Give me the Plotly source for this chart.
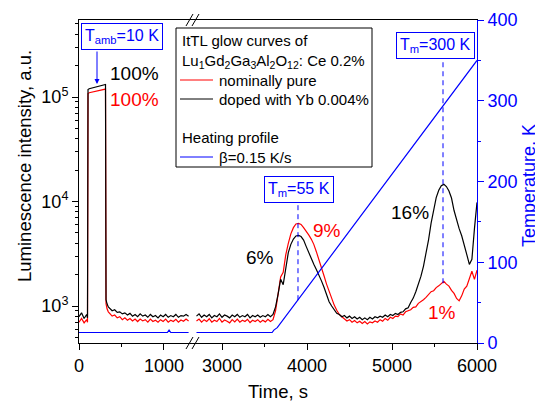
import plotly.graph_objects as go

# ---------------- data ----------------
time_left = [0, 30, 60, 90, 100, 106, 120, 150, 180, 210, 240, 270, 300, 312, 318, 322,
             330, 345, 360, 390, 420, 450, 480, 510, 540, 570, 600, 630, 660, 690, 720,
             750, 780, 810, 840, 870, 900, 930, 960, 990, 1020, 1050, 1080, 1110, 1140,
             1170, 1200, 1230, 1260, 1290]
black_left = [790, 860, 760, 830, 770, 118000, 120000, 122000, 124000, 126000, 127500,
              129000, 131000, 132000, 1150, 1080, 1050, 980, 950, 900, 920, 870, 880, 840,
              860, 820, 850, 800, 830, 790, 840, 800, 820, 780, 830, 790, 810, 770, 820,
              790, 830, 780, 810, 790, 830, 780, 810, 800, 830, 800]
red_left = [700, 760, 690, 740, 700, 108000, 110000, 111500, 113000, 114500, 116000,
            117000, 118500, 119000, 1050, 980, 940, 880, 850, 800, 820, 770, 790, 740,
            770, 730, 760, 720, 750, 710, 750, 720, 740, 700, 750, 710, 730, 700, 740,
            710, 750, 700, 730, 710, 745, 700, 735, 715, 750, 720]

time_right = list(range(2700, 6001, 30))
black_right = [800, 840, 780, 820, 790, 830, 770, 810, 790, 840,
               780, 820, 800, 770, 820, 790, 830, 780, 810, 790,
               830, 770, 810, 790, 820, 780, 810, 790, 830, 790,
               830, 980, 1300, 1800, 1600, 2400, 3240, 3890, 4370, 4680,
               4730, 4620, 4270, 3720, 3240, 2880, 2510, 2240, 2000, 1740,
               1510, 1290, 1100, 1000, 910, 850, 830, 790, 810, 770,
               800, 760, 790, 750, 780, 740, 770, 740, 780, 750,
               790, 770, 800, 780, 820, 790, 830, 810, 850, 830,
               870, 880, 940, 960, 1080, 1190, 1370, 1600, 1920, 2400,
               3100, 4300, 6200, 8500, 10900, 12800, 14200, 14600, 13900, 12600,
               10800, 8200, 6600, 5500, 4700, 3900, 3100, 2500, 2800, 5500, 9800]
red_right = [720, 750, 700, 740, 710, 755, 700, 730, 710, 760,
             700, 735, 715, 690, 740, 705, 750, 700, 730, 710,
             745, 695, 730, 710, 740, 700, 730, 705, 745, 710,
             740, 900, 1300, 1900, 2100, 3090, 3980, 4900, 5620, 6100,
             6170, 6030, 5620, 5250, 4790, 4370, 3890, 3310, 2820, 2340,
             1950, 1620, 1380, 1170, 1020, 910, 830, 790, 750, 720,
             740, 700, 725, 690, 715, 680, 710, 675, 705, 690,
             720, 700, 740, 715, 760, 730, 780, 760, 800, 790,
             840, 820, 880, 900, 920, 970, 980, 1060, 1100, 1150,
             1210, 1300, 1370, 1400, 1500, 1560, 1640, 1720, 1620, 1550,
             1410, 1320, 1180, 1120, 1250, 1450, 1550, 1850, 2150, 1800, 2200]

temp_time_left = [0, 1040, 1060, 1080, 1290]
temp_left = [13, 13, 16, 13, 13]
temp_time_right = [2700, 3590, 3610, 3630, 3650, 6000]
temp_right = [13, 13, 16, 17, 19, 350]

x_ticks_left = [0, 1000]
x_ticks_right = [3000, 4000, 5000, 6000]
y_ticks = [1e3, 1e4, 1e5]
y_ticktext = ['10<sup>3</sup>', '10<sup>4</sup>', '10<sup>5</sup>']
y_minor = [500, 600, 700, 800, 900, 2000, 3000, 4000, 5000, 6000, 7000, 8000, 9000,
           20000, 30000, 40000, 50000, 60000, 70000, 80000, 90000, 200000, 300000,
           400000, 500000]
t_ticks = [0, 100, 200, 300, 400]

legend_title = ['ItTL glow curves of',
                'Lu<sub>1</sub>Gd<sub>2</sub>Ga<sub>3</sub>Al<sub>2</sub>O<sub>12</sub>: Ce 0.2%']
legend_names = ['nominally pure', 'doped with Yb 0.004%', 'β=0.15 K/s']
legend_group2 = 'Heating profile'

# ---------------- layout helpers ----------------
OFF = 8                     # page body margin of the browser
W, H = 543, 403
L, R, T, B = 79, 477, 20, 343   # plot area in screen pixels
def px(x):
    return (x - L) / (R - L)
def py(y):
    return (B - y) / (B - T)

FONT = "Arial, Liberation Sans, sans-serif"
BLUE = "#0000ff"
RED = "#ff0000"
split = px(192)

fig = go.Figure()

# glow curves
fig.add_trace(go.Scatter(x=time_left, y=red_left, xaxis='x', yaxis='y', mode='lines',
                         line=dict(color=RED, width=1.2), name=legend_names[0]))
fig.add_trace(go.Scatter(x=time_right, y=red_right, xaxis='x2', yaxis='y', mode='lines',
                         line=dict(color=RED, width=1.2), name=legend_names[0]))
fig.add_trace(go.Scatter(x=time_left, y=black_left, xaxis='x', yaxis='y', mode='lines',
                         line=dict(color='black', width=1.2), name=legend_names[1]))
fig.add_trace(go.Scatter(x=time_right, y=black_right, xaxis='x2', yaxis='y', mode='lines',
                         line=dict(color='black', width=1.2), name=legend_names[1]))
# heating profile
fig.add_trace(go.Scatter(x=temp_time_left, y=temp_left, xaxis='x', yaxis='y3', mode='lines',
                         line=dict(color=BLUE, width=1.2), name=legend_names[2]))
fig.add_trace(go.Scatter(x=temp_time_right, y=temp_right, xaxis='x2', yaxis='y2', mode='lines',
                         line=dict(color=BLUE, width=1.2), name=legend_names[2]))

axis_common = dict(showline=True, linecolor='black', linewidth=1, ticks='outside',
                   ticklen=6, tickcolor='black', showgrid=False, zeroline=False,
                   tickfont=dict(size=18, color='black', family=FONT))

fig.update_layout(
    width=W - OFF, height=H - OFF,
    margin=dict(l=L - OFF, r=W - R, t=T - OFF, b=H - B, autoexpand=False),
    paper_bgcolor='white', plot_bgcolor='white', showlegend=False,
    font=dict(family=FONT, color='black'),
    xaxis=dict(domain=[0, split], range=[0, 1330], tickvals=x_ticks_left, anchor='y',
               mirror=True, minor=dict(tickvals=[500], ticks='outside', ticklen=3,
                                       tickcolor='black'), **axis_common),
    xaxis2=dict(domain=[split, 1], range=[2647, 6000], tickvals=x_ticks_right, anchor='y',
                mirror=True, minor=dict(tickvals=[3500, 4500, 5500], ticks='outside',
                                        ticklen=3, tickcolor='black'), **axis_common),
    yaxis=dict(type='log', range=[2.646, 5.737], tickvals=y_ticks, ticktext=y_ticktext,
               anchor='x', minor=dict(tickvals=y_minor, ticks='outside', ticklen=3,
                                      tickcolor='black'), **axis_common),
    yaxis2=dict(overlaying='y', side='right', anchor='x2', range=[0, 400], tickvals=t_ticks,
                showline=True, linecolor=BLUE, linewidth=1, ticks='outside', ticklen=6,
                tickcolor=BLUE, showgrid=False, zeroline=False,
                tickfont=dict(size=18, color=BLUE, family=FONT),
                minor=dict(tickvals=[50, 150, 250, 350], ticks='outside', ticklen=3,
                           tickcolor=BLUE)),
    yaxis3=dict(overlaying='y', anchor='x', range=[0, 400], visible=False),
)

def label(text, x, y, size=19, color='black', xanchor='center', **kw):
    fig.add_annotation(text=text, xref='paper', yref='paper', x=px(x), y=py(y),
                       xanchor=xanchor, yanchor='middle', showarrow=False,
                       font=dict(size=size, color=color, family=FONT), **kw)

# axis titles
label('Luminescence intensity, a.u.', 24, 166, size=18.5, textangle=-90)
label('Time, s', 278, 391, size=18.5)
label('Temperature, K', 529, 186, size=18, color=BLUE, textangle=-90)

# legend box (drawn by hand)
fig.add_shape(type='rect', xref='paper', yref='paper', x0=px(176), x1=px(372),
              y0=py(167), y1=py(28), line=dict(color='black', width=1),
              fillcolor='white', layer='above')
label(legend_title[0], 180, 40, size=15, xanchor='left')
label(legend_title[1], 180, 61, size=15, xanchor='left')
label(legend_group2, 180, 137, size=15, xanchor='left')
for name, col, yy in [(legend_names[0], RED, 80), (legend_names[1], 'black', 99),
                      (legend_names[2], BLUE, 157)]:
    fig.add_shape(type='line', xref='paper', yref='paper', x0=px(180), x1=px(213),
                  y0=py(yy), y1=py(yy), line=dict(color=col, width=1))
    label(name, 217, yy, size=15, xanchor='left')

# boxed labels
for txt, cx, cy in [('T<sub>amb</sub>=10 K', 122, 36), ('T<sub>m</sub>=55 K', 299, 189),
                    ('T<sub>m</sub>=300 K', 435, 45)]:
    label(txt, cx, cy, size=16, color=BLUE, bordercolor=BLUE, borderwidth=1,
          borderpad=3, bgcolor='white')
# arrow to the pulse
fig.add_annotation(text='', xref='paper', yref='paper', x=px(97), y=py(84), ax=0, ay=-34,
                   showarrow=True, arrowhead=2, arrowsize=1, arrowwidth=1, arrowcolor=BLUE)

# percentages
for txt, cx, cy, col in [('100%', 134, 73, 'black'), ('100%', 134, 99, RED),
                         ('6%', 260, 257, 'black'), ('9%', 327, 230, RED),
                         ('16%', 410, 212, 'black'), ('1%', 442, 312, RED)]:
    label(txt, cx, cy, color=col)

# dashed markers (temperature of maxima)
fig.add_shape(type='line', xref='x2', yref='y2', x0=3894, x1=3894, y0=53, y1=177,
              line=dict(color=BLUE, width=1, dash='5px,4px'))
fig.add_shape(type='line', xref='x2', yref='y2', x0=5600, x1=5600, y0=74, y1=353,
              line=dict(color=BLUE, width=1, dash='5px,4px'))

# axis break marks
for yc in (B, T):
    for x0 in (186, 192):
        fig.add_shape(type='line', xref='paper', yref='paper',
                      x0=px(x0), y0=py(yc + 6), x1=px(x0 + 7), y1=py(yc - 6),
                      line=dict(color='black', width=1))

fig.write_html("out.html")
